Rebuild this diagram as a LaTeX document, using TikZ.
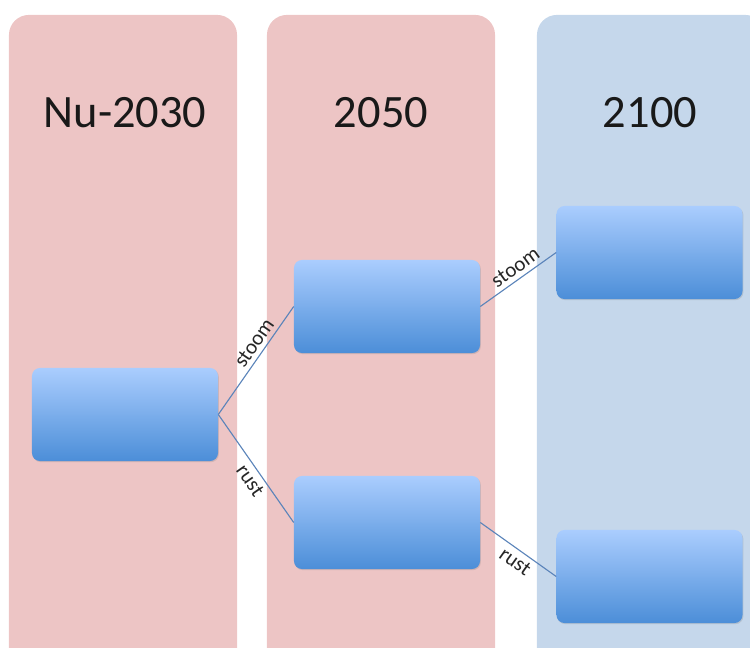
\documentclass[tikz,border=0pt]{standalone}
\usepackage{fontspec}
\setmainfont{Carlito}
\usetikzlibrary{shadows}
\definecolor{colpink}{HTML}{EDC5C5}
\definecolor{colblue}{HTML}{C5D7EB}
\definecolor{boxtop}{HTML}{AACDFE}
\definecolor{boxbottom}{HTML}{4C8ED8}
\definecolor{linkblue}{HTML}{5B84BA}
\begin{document}
\begin{tikzpicture}[x=0.025cm, y=-0.025cm,
    column/.style={rounded corners=0.5cm, minimum width=5.7cm, minimum height=16.6cm, inner sep=0pt},
    title/.style={font=\fontsize{33}{40}\selectfont, text=black!90},
    state/.style={rounded corners=0.2cm, top color=boxtop, bottom color=boxbottom,
        minimum width=4.65cm, minimum height=2.325cm,
        drop shadow={opacity=0.25, shadow xshift=0.6pt, shadow yshift=-0.8pt}},
    link/.style={draw=linkblue, line width=0.8pt},
    lbl/.style={font=\fontsize{15}{17}\selectfont, sloped, text=black!85, inner sep=3pt}]
        \useasboundingbox (0,0) rectangle (750,648);
        \clip (0,0) rectangle (750,648);

        % Year columns
        \node[column, fill=colpink] (c1) at (123,347) {};
        \node[column, fill=colpink] (c2) at (381,347) {};
        \node[column, fill=colblue] (c3) at (651,347) {};

        \node[title] (t1) at (125,113) {Nu-2030};
        \node[title] (t2) at (381,113) {2050};
        \node[title] (t3) at (650,113) {2100};

        % Scenario boxes
        \node[state] (now) at (125,414.5) {};
        \node[state] (mid1) at (387,306.5) {};
        \node[state] (mid2) at (387,522.5) {};
        \node[state] (end1) at (649.5,252.5) {};
        \node[state] (end2) at (649.5,576.5) {};

        % Branches
        \draw[link] (now.east) -- (mid1.west) node[lbl, above, pos=0.6] {stoom};
        \draw[link] (now.east) -- (mid2.west) node[lbl, below, pos=0.55] {rust};
        \draw[link] (mid1.east) -- (end1.west) node[lbl, above, pos=0.55] {stoom};
        \draw[link] (mid2.east) -- (end2.west) node[lbl, below, pos=0.55] {rust};
    \end{tikzpicture}
\end{document}
